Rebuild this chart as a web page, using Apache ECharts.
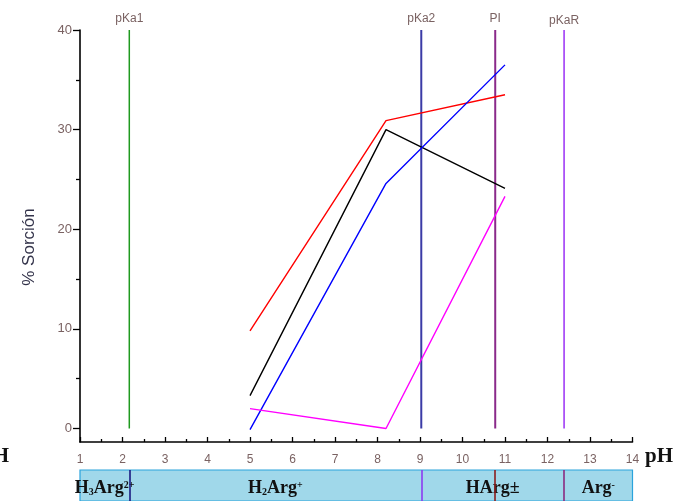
<!DOCTYPE html>
<html><head><meta charset="utf-8">
<script src="https://cdn.jsdelivr.net/npm/echarts@6/dist/echarts.min.js"></script>
<style>html,body{margin:0;padding:0;background:#fff}#c{width:684px;height:501px}</style>
</head><body><div id="c"></div>
<script>
// ---- data ----
const phPoints = [5, 8.2, 11];
const seriesRed = [9.8, 30.9, 33.5];
const seriesBlack = [3.3, 30.0, 24.1];
const seriesBlue = [-0.1, 24.6, 36.5];
const seriesMagenta = [2.0, 0.0, 23.3];
const pkNames = ['pKa1', 'pKa2', 'PI', 'pKaR'];
const pkValues = [2.16, 9.03, 10.77, 12.39];
const pkLineColors = ['#1f9a1f', '#3b3ba6', '#8a2a8a', '#9a30f5'];
const bandDividerColors = ['#1a1a80', '#8c3cf0', '#8b1e1e', '#8b2a80'];
const speciesNames = ['H₃Arg²⁺', 'H₂Arg⁺', 'HArg±', 'Arg⁻'];
const speciesBounds = [1, 2.16, 9.03, 12.39, 14];
const yLabelValues = [0, 10, 20, 30, 40];
const yMinorValues = [5, 15, 25, 35];

const labelColor = '#7a6262';
const chart = echarts.init(document.getElementById('c'));

// render sub/superscript characters as rich text tokens
const SUB = { '₀':'0','₁':'1','₂':'2','₃':'3','₄':'4' };
const SUP = { '²':'2','³':'3','⁺':'+','⁻':'-' };
function toRich(s) {
  let out = '', buf = '';
  const flush = () => { if (buf) { out += '{m|' + buf + '}'; buf = ''; } };
  for (const ch of s) {
    if (SUB[ch]) { flush(); out += '{sub|' + SUB[ch] + '}'; }
    else if (SUP[ch]) { flush(); out += '{sup|' + SUP[ch] + '}'; }
    else buf += ch;
  }
  flush();
  return out;
}

function lineSeries(vals, color) {
  return {
    type: 'line', xAxisIndex: 0, yAxisIndex: 0, symbol: 'none', silent: true,
    data: phPoints.map((p, i) => [p, vals[i]]),
    lineStyle: { color: color, width: 1.4 }
  };
}

const pkSeries = pkNames.map((n, i) => ({
  type: 'line', xAxisIndex: 0, yAxisIndex: 0, symbol: 'circle', symbolSize: 0,
  showSymbol: true, silent: true,
  itemStyle: { color: 'rgba(0,0,0,0)' },
  data: [
    { value: [pkValues[i], 0], label: { show: false } },
    { value: [pkValues[i], 40], label: {
      show: true, position: 'top', distance: i === 3 ? 3 : 5, formatter: n,
      color: labelColor, fontSize: 12, fontFamily: 'Liberation Sans, Arial'
    }}
  ],
  lineStyle: { color: pkLineColors[i], width: i === 0 || i === 3 ? 1.5 : 2 }
}));

const regionAreas = speciesNames.map((s, i) => [
  { xAxis: speciesBounds[i], yAxis: 0, name: s,
    itemStyle: { color: 'rgba(0,0,0,0)', borderWidth: 0 } },
  { xAxis: speciesBounds[i + 1], yAxis: 1 }
]);

const serif = 'Liberation Serif, DejaVu Serif, serif';
const bandSeries = {
  type: 'line', xAxisIndex: 1, yAxisIndex: 2, symbol: 'none', silent: true,
  data: [],
  markArea: {
    silent: true,
    label: { show: true, position: 'inside', offset: [0, 3],
      formatter: p => toRich(p.name),
      rich: {
        m: { color: '#111', fontFamily: serif, fontWeight: 'bold', fontSize: 18, lineHeight: 22 },
        sub: { color: '#111', fontFamily: serif, fontWeight: 'bold', fontSize: 10, lineHeight: 10, verticalAlign: 'bottom', padding: [0, 0, 2, 0] },
        sup: { color: '#111', fontFamily: serif, fontWeight: 'bold', fontSize: 10, lineHeight: 10, verticalAlign: 'top', padding: [3, 0, 0, 0] }
      }
    },
    data: [
      [{ xAxis: 1, yAxis: 0, itemStyle: { color: '#a0d8ea', borderColor: '#2aa3dc', borderWidth: 1.2 }, label: { show: false } },
       { xAxis: 14, yAxis: 1 }]
    ].concat(regionAreas)
  },
  markLine: {
    silent: true, symbol: 'none', label: { show: false },
    data: pkValues.map((v, i) => ({ xAxis: v, lineStyle: { color: bandDividerColors[i], width: 1.6, type: 'solid' } }))
  }
};

chart.setOption({
  animation: false,
  backgroundColor: '#fff',
  grid: [
    { left: 80, right: 51.5, top: 30, bottom: 59 },
    { left: 80, right: 51.5, top: 470, height: 50 }
  ],
  xAxis: [
    { gridIndex: 0, type: 'value', min: 1, max: 14, interval: 1,
      axisLine: { onZero: false, lineStyle: { color: '#000', width: 1.6 } },
      axisTick: { inside: true, length: 5, lineStyle: { color: '#000', width: 1.3 } },
      minorTick: { show: true, splitNumber: 2, length: 3, lineStyle: { color: '#000', width: 1.3 } },
      splitLine: { show: false },
      axisLabel: { margin: 12, color: labelColor, fontSize: 12, fontFamily: 'Liberation Sans, Arial' },
      name: 'pH', nameLocation: 'end', nameGap: 12,
      nameTextStyle: { color: '#111', fontSize: 21, fontWeight: 'bold',
        fontFamily: serif, verticalAlign: 'top', padding: [4, 0, 0, 0] } },
    { gridIndex: 1, type: 'value', min: 1, max: 14, show: false }
  ],
  yAxis: [
    { gridIndex: 0, type: 'value', min: -1.35, max: 40, position: 'left',
      axisLine: { show: true, lineStyle: { color: '#000', width: 1.6 } },
      axisTick: { show: true, length: 7, customValues: yLabelValues, lineStyle: { color: '#000', width: 1.3 } },
      axisLabel: { customValues: yLabelValues, margin: 8, color: labelColor, fontSize: 13, fontFamily: 'Liberation Sans, Arial' },
      splitLine: { show: false },
      name: '% Sorción', nameLocation: 'middle', nameGap: 42, nameRotate: 90,
      nameTextStyle: { color: '#33334a', fontSize: 17, fontFamily: 'Liberation Sans, Arial', padding: [0, 22, 0, 0] } },
    { gridIndex: 0, type: 'value', min: -1.35, max: 40, position: 'left', offset: 0,
      axisLine: { show: false },
      axisTick: { show: true, length: 4, customValues: yMinorValues, lineStyle: { color: '#000', width: 1.3 } },
      axisLabel: { show: false }, splitLine: { show: false } },
    { gridIndex: 1, type: 'value', min: 0, max: 1, show: false }
  ],
  graphic: [
    { type: 'text', right: 675, top: 446, style: { text: 'pH', fill: '#111',
      font: 'bold 21px "Liberation Serif", serif' } }
  ],
  series: [
    ...pkSeries,
    lineSeries(seriesRed, '#ff0000'),
    lineSeries(seriesBlack, '#000000'),
    lineSeries(seriesBlue, '#0000ff'),
    lineSeries(seriesMagenta, '#ff00ff'),
    bandSeries
  ]
});
</script></body></html>
